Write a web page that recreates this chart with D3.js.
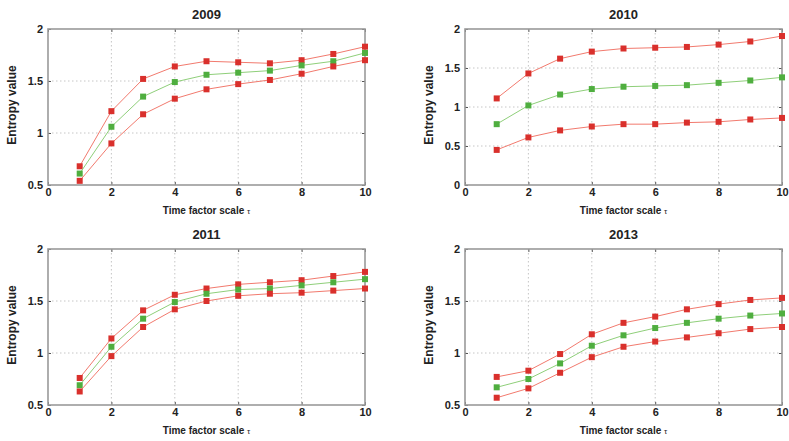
<!DOCTYPE html>
<html>
<head>
<meta charset="UTF-8">
<script src="https://d3js.org/d3.v7.min.js"></script>
<style>
  body { margin: 0; background: #fff; }
  svg text { font-family: "Liberation Sans", Arial, sans-serif; fill: #222; }
  .tick text { font-size: 11px; font-weight: bold; }
  .grid line { stroke: #b8b8b8; stroke-dasharray: 1.5,2.5; stroke-width: 0.8; }
</style>
</head>
<body>
<svg width="789" height="441"></svg>
<script>
// data
var tau = [1, 2, 3, 4, 5, 6, 7, 8, 9, 10];
var xTicks = [0, 2, 4, 6, 8, 10];

var years = ["2009", "2010", "2011", "2013"];

var upper2009 = [0.68, 1.21, 1.52, 1.64, 1.69, 1.68, 1.67, 1.70, 1.76, 1.83];
var mean2009  = [0.61, 1.06, 1.35, 1.49, 1.56, 1.58, 1.60, 1.65, 1.69, 1.77];
var lower2009 = [0.54, 0.90, 1.18, 1.33, 1.42, 1.47, 1.51, 1.57, 1.64, 1.70];

var upper2010 = [1.11, 1.43, 1.62, 1.71, 1.75, 1.76, 1.77, 1.80, 1.84, 1.91];
var mean2010  = [0.78, 1.02, 1.16, 1.23, 1.26, 1.27, 1.28, 1.31, 1.34, 1.38];
var lower2010 = [0.45, 0.61, 0.70, 0.75, 0.78, 0.78, 0.80, 0.81, 0.84, 0.86];

var upper2011 = [0.76, 1.14, 1.41, 1.56, 1.62, 1.66, 1.68, 1.70, 1.74, 1.78];
var mean2011  = [0.69, 1.06, 1.33, 1.49, 1.57, 1.61, 1.62, 1.65, 1.68, 1.71];
var lower2011 = [0.63, 0.97, 1.25, 1.42, 1.50, 1.55, 1.57, 1.58, 1.60, 1.62];

var upper2013 = [0.77, 0.83, 0.99, 1.18, 1.29, 1.35, 1.42, 1.47, 1.51, 1.53];
var mean2013  = [0.67, 0.75, 0.90, 1.07, 1.17, 1.24, 1.29, 1.33, 1.36, 1.38];
var lower2013 = [0.57, 0.66, 0.81, 0.96, 1.06, 1.11, 1.15, 1.19, 1.23, 1.25];

var yTicksA = [0.5, 1, 1.5, 2];
var yTicksB = [0, 0.5, 1, 1.5, 2];

var panels = [
  { title: years[0], left: 48,  top: 29,  yMin: 0.5, yTicks: yTicksA, series: [upper2009, mean2009, lower2009] },
  { title: years[1], left: 465, top: 29,  yMin: 0,   yTicks: yTicksB, series: [upper2010, mean2010, lower2010] },
  { title: years[2], left: 48,  top: 249, yMin: 0.5, yTicks: yTicksA, series: [upper2011, mean2011, lower2011] },
  { title: years[3], left: 465, top: 249, yMin: 0.5, yTicks: yTicksA, series: [upper2013, mean2013, lower2013] }
];

var pw = 317, ph = 156;
var lineColors = ["#f27a6e", "#8fcf7a", "#f27a6e"];
var markColors = ["#d9302c", "#4fae3f", "#d9302c"];

var svg = d3.select("svg");

panels.forEach(function(p) {
  var x = d3.scaleLinear().domain([0, 10]).range([0, pw]);
  var y = d3.scaleLinear().domain([p.yMin, 2]).range([ph, 0]);

  var g = svg.append("g").attr("transform", "translate(" + p.left + "," + p.top + ")");

  g.append("rect").attr("width", pw).attr("height", ph).attr("fill", "#fff");

  // grid
  g.append("g").attr("class", "grid")
    .selectAll("line").data(xTicks.slice(1, -1)).enter().append("line")
      .attr("x1", x).attr("x2", x).attr("y1", 0).attr("y2", ph);
  g.append("g").attr("class", "grid")
    .selectAll("line").data(p.yTicks.slice(1, -1)).enter().append("line")
      .attr("y1", y).attr("y2", y).attr("x1", 0).attr("x2", pw);

  // axes, ticks inside on all four sides
  var xa = g.append("g").attr("transform", "translate(0," + ph + ")")
    .call(d3.axisBottom(x).tickValues(xTicks).tickSizeInner(-3).tickSizeOuter(0).tickPadding(3));
  var ya = g.append("g")
    .call(d3.axisLeft(y).tickValues(p.yTicks).tickFormat(d3.format("")).tickSizeInner(-3).tickSizeOuter(0).tickPadding(5));
  var xt = g.append("g")
    .call(d3.axisTop(x).tickValues(xTicks).tickSizeInner(-3).tickSizeOuter(0).tickFormat(""));
  var yr = g.append("g").attr("transform", "translate(" + pw + ",0)")
    .call(d3.axisRight(y).tickValues(p.yTicks).tickSizeInner(-3).tickSizeOuter(0).tickFormat(""));
  [xa, ya, xt, yr].forEach(function(a) {
    a.select(".domain").remove();
    a.selectAll(".tick line").attr("stroke", "#555");
  });

  g.append("rect").attr("width", pw).attr("height", ph)
    .attr("fill", "none").attr("stroke", "#9a9a9a").attr("stroke-width", 1.6);

  var line = d3.line().x(function(d, i) { return x(tau[i]); }).y(function(d) { return y(d); });

  p.series.forEach(function(s, k) {
    g.append("path").datum(s).attr("d", line)
      .attr("fill", "none").attr("stroke", lineColors[k]).attr("stroke-width", 1);
    g.selectAll(".m" + k).data(s).enter().append("rect")
      .attr("class", "m" + k)
      .attr("x", function(d, i) { return x(tau[i]) - 3; })
      .attr("y", function(d) { return y(d) - 3; })
      .attr("width", 6).attr("height", 6)
      .attr("fill", markColors[k]);
  });

  g.append("text").attr("x", pw / 2).attr("y", -10)
    .attr("text-anchor", "middle").style("font-size", "13px").style("font-weight", "bold")
    .text(p.title);
  var xl = g.append("text").attr("x", pw / 2).attr("y", ph + 29)
    .attr("text-anchor", "middle").style("font-size", "10px").style("font-weight", "bold")
    .text("Time factor scale ");
  xl.append("tspan").style("font-weight", "normal").style("font-size", "8px").text("τ");
  g.append("text")
    .attr("transform", "translate(" + (-32) + "," + (ph / 2 - 2) + ") rotate(-90)")
    .attr("text-anchor", "middle").style("font-size", "12px").style("font-weight", "bold")
    .text("Entropy value");
});
</script>
</body>
</html>
